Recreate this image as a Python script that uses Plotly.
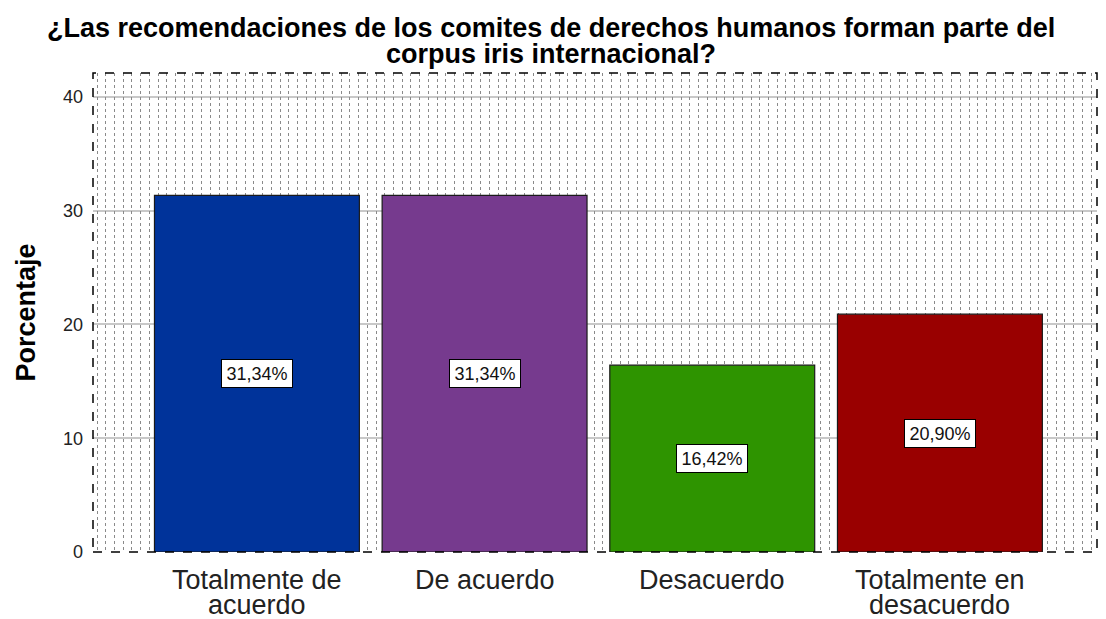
import plotly.graph_objects as go

categories = ["Totalmente de<br>acuerdo", "De acuerdo", "Desacuerdo", "Totalmente en<br>desacuerdo"]
values = [31.34, 31.34, 16.42, 20.90]
labels = ["31,34%", "31,34%", "16,42%", "20,90%"]
colors = ["#00339a", "#763a8e", "#2e9400", "#990000"]
positions = [0, 1, 2, 3]
title_lines = ["¿Las recomendaciones de los comites de derechos humanos forman parte del",
               "corpus iris internacional?"]
yticks = [0, 10, 20, 30, 40]

FONT = "Liberation Sans, Arial"

fig = go.Figure()
fig.add_trace(go.Bar(
    x=positions, y=values, width=0.9,
    marker=dict(color=colors, line=dict(color="#1a1a1a", width=1.2)),
    hoverinfo="skip", showlegend=False,
))
# invisible trace to anchor the dotted background axis
fig.add_trace(go.Scatter(x=[0, 1004], y=[0, 0], xaxis="x2", mode="markers",
                         marker=dict(opacity=0), hoverinfo="skip", showlegend=False))

for p, v, t in zip(positions, values, labels):
    fig.add_annotation(x=p, y=v / 2, text=t, showarrow=False,
                       font=dict(family=FONT, size=18, color="#111"),
                       bgcolor="white", bordercolor="black", borderwidth=1,
                       width=70, height=27, borderpad=0)

# category labels with tight line spacing
for p, c in zip(positions, categories):
    for i, line in enumerate(c.split("<br>")):
        fig.add_annotation(x=p, xref="x", y=0, yref="paper", yanchor="middle",
                           yshift=-28 - 25 * i, text=line, showarrow=False,
                           font=dict(family=FONT, size=27, color="#222"))

# title with tight line spacing
for i, line in enumerate(title_lines):
    fig.add_annotation(x=0.5, xref="paper", xanchor="center", xshift=-44, y=1, yref="paper",
                       yanchor="middle", yshift=45 - 26 * i, text="<b>" + line + "</b>",
                       showarrow=False, font=dict(family=FONT, size=27, color="black"))

fig.add_annotation(x=0, xref="paper", xanchor="center", xshift=-68, y=0.5, yref="paper",
                   yanchor="middle", textangle=-90,
                   text="<b>Porcentaje</b>", showarrow=False,
                   font=dict(family=FONT, size=27, color="black"))

# page body has an 8px margin, so the figure is drawn 8px smaller and offset
fig.update_layout(
    width=1098, height=611,
    margin=dict(l=85, r=9, t=65, b=67),
    paper_bgcolor="white", plot_bgcolor="white",
    xaxis=dict(range=[-0.72, 3.69], showticklabels=False, automargin=False,
               showgrid=False, zeroline=False, showline=False, ticks=""),
    xaxis2=dict(overlaying="x", range=[0, 1004], showticklabels=False, ticks="",
                showgrid=True, gridcolor="#8a8a8a", griddash="dot", gridwidth=1,
                tick0=4, dtick=8.72, zeroline=False, showline=False, side="top",
                automargin=False),
    yaxis=dict(range=[0, 42.1], tickvals=yticks, showgrid=True, automargin=False,
               gridcolor="#c8c8c8", gridwidth=1.5, zeroline=False, showline=False, ticks="",
               ticklabelstandoff=9,
               tickfont=dict(family=FONT, size=18, color="#222")),
)
fig.add_shape(type="rect", xref="paper", yref="paper", x0=0, x1=1, y0=0, y1=1,
              line=dict(color="black", width=1.5, dash="dash"), layer="above")

fig.write_html("out.html")
